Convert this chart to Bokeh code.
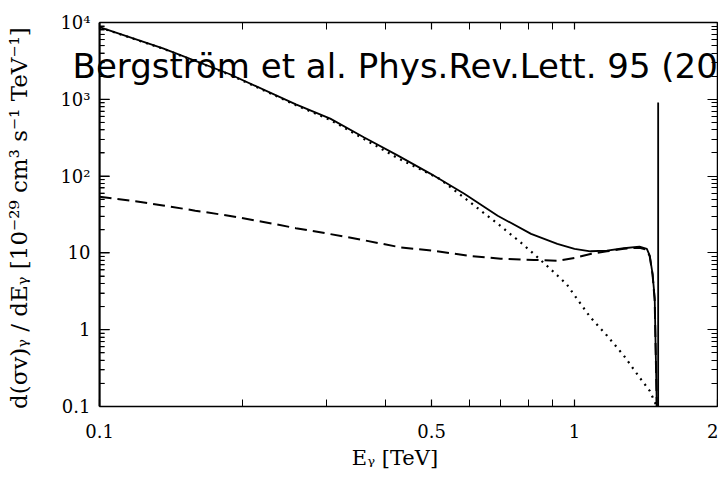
from bokeh.plotting import figure
from bokeh.models import Range1d, FixedTicker, Label, LogAxis, Span
from bokeh.embed import file_html
from bokeh.resources import INLINE

# ---- data (E in TeV, dσv/dE in 1e-29 cm^3 s^-1 TeV^-1) ----
total_E = [0.100, 0.136, 0.187, 0.259, 0.306, 0.360, 0.424, 0.498, 0.586, 0.689,
           0.810, 0.920, 1.00, 1.08, 1.17, 1.27, 1.37, 1.42, 1.44, 1.46, 1.475, 1.49]
total_y = [8700, 4600, 2150, 860, 560, 320, 186, 107, 59, 30.5,
           17.7, 13.1, 11.3, 10.5, 10.7, 11.5, 12.1, 11.3, 9.2, 5.3, 2.6, 0.1]

cont_E = [0.100, 0.136, 0.187, 0.259, 0.306, 0.360, 0.424, 0.520, 0.584, 0.689,
          0.770, 0.821, 0.889, 0.963, 1.00, 1.08, 1.17, 1.27, 1.37, 1.44, 1.49]
cont_y = [8650, 4560, 2120, 840, 540, 305, 172, 92, 53, 24,
          13.7, 9.7, 6.2, 3.9, 2.8, 1.45, 0.84, 0.46, 0.24, 0.16, 0.1]

ib_E = [0.100, 0.119, 0.136, 0.159, 0.187, 0.220, 0.259, 0.304, 0.349, 0.430,
        0.505, 0.595, 0.699, 0.821, 0.920, 1.00, 1.08, 1.17, 1.27, 1.37,
        1.42, 1.44, 1.46, 1.475, 1.49]
ib_y = [54, 47, 41.5, 35.5, 30.5, 25.5, 21, 17.7, 15.2, 11.8,
        10.7, 9.2, 8.4, 8.1, 7.9, 8.6, 9.7, 10.5, 11.3, 11.7,
        11.0, 9.0, 5.2, 2.4, 0.1]

line_E = [1.5, 1.5]
line_y = [0.1, 910]

X_MIN, X_MAX = 0.1, 2.0
Y_MIN, Y_MAX = 0.1, 1e4
X_VIEW_START = 0.0877   # a little room left of the axis so the caption can start there

x_ticks = [0.1, 0.5, 1.0, 2.0]
x_tick_labels = ["0.1", "0.5", "1", "2"]
x_minor = [0.2, 0.3, 0.4, 0.6, 0.7, 0.8, 0.9]
y_ticks = [0.1, 1, 10, 100, 1000, 10000]
y_tick_labels = ["0.1", "1", "10", "10²", "10³", "10⁴"]
y_minor = [k * 10.0 ** e for e in range(-1, 4) for k in range(2, 10)]

x_label = "Eᵧ [TeV]"
y_label = "d(σv)ᵧ / dEᵧ  [10⁻²⁹ cm³ s⁻¹ TeV⁻¹]"
note = "Bergström et al. Phys.Rev.Lett. 95 (2005)"

SERIF = "DejaVu Serif"

p = figure(width=718, height=477, x_axis_type="log", y_axis_type="log",
           x_range=Range1d(X_VIEW_START, X_MAX), y_range=Range1d(Y_MIN, Y_MAX),
           output_backend="svg", toolbar_location=None,
           min_border_left=72, min_border_right=1, min_border_top=22,
           min_border_bottom=71)
p.grid.visible = False
p.outline_line_color = None
p.background_fill_color = "white"
p.border_fill_color = "white"

xtick = FixedTicker(ticks=x_ticks, minor_ticks=x_minor)
ytick = FixedTicker(ticks=y_ticks, minor_ticks=y_minor)

def style(ax, major_in, minor_in):
    ax.axis_line_width = 1.5
    ax.axis_line_color = "black"
    ax.major_tick_in = major_in
    ax.major_tick_out = 0
    ax.minor_tick_in = minor_in
    ax.minor_tick_out = 0
    ax.major_tick_line_width = 1.2
    ax.minor_tick_line_width = 1.0
    ax.major_label_text_font = SERIF
    ax.major_label_text_font_size = "18px"
    ax.major_label_text_color = "black"
    ax.axis_label_text_font = SERIF
    ax.axis_label_text_font_style = "normal"
    ax.axis_label_text_font_size = "21px"
    ax.axis_label_text_color = "black"

def hide_labels(ax, ticks):
    ax.major_label_overrides = {t: "" for t in ticks}
    ax.major_label_text_color = None
    ax.major_label_text_font_size = "10px"
    ax.major_label_standoff = 0

# bottom axis: drawn only over the data range
xa = p.xaxis[0]
xa.ticker = xtick
style(xa, 7, 7)
xa.bounds = (X_MIN, X_MAX)
xa.major_label_overrides = {t: lab for t, lab in zip(x_ticks, x_tick_labels)}
xa.major_label_standoff = 17
xa.axis_label = x_label
xa.axis_label_standoff = 5

# left side: labels + title from the side axis, pulled right to sit beside E = 0.1
ya = p.yaxis[0]
ya.ticker = ytick
style(ya, 10, 5)
ya.axis_line_color = None
ya.major_tick_line_color = None
ya.minor_tick_line_color = None
ya.major_label_overrides = {t: lab for t, lab in zip(y_ticks, y_tick_labels)}
ya.major_label_standoff = -18
ya.axis_label = y_label
ya.axis_label_text_font_size = "23px"
ya.axis_label_standoff = 25

# left frame edge at E = 0.1 with inward ticks
yedge = LogAxis(ticker=ytick, fixed_location=X_MIN)
style(yedge, 10, 5)
hide_labels(yedge, y_ticks)
p.add_layout(yedge, "left")
p.add_layout(Span(location=X_MIN, dimension="height", line_color="black", line_width=1.5))
p.line([X_MIN, X_MIN], [Y_MIN, Y_MAX], line_color="black", line_width=1.5)
p.ray(x=[X_MIN] * len(y_ticks), y=y_ticks, length=10, length_units="screen",
      angle=0, line_color="black", line_width=1.2)
p.ray(x=[X_MIN] * len(y_minor), y=y_minor, length=5, length_units="screen",
      angle=0, line_color="black", line_width=1.0)

# mirrored top and right frame edges
top = LogAxis(ticker=xtick, bounds=(X_MIN, X_MAX))
style(top, 7, 7)
hide_labels(top, x_ticks)
p.add_layout(top, "above")

right = LogAxis(ticker=ytick)
style(right, 10, 6)
hide_labels(right, y_ticks)
p.add_layout(right, "right")

p.line(ib_E, ib_y, line_color="black", line_width=2, line_dash="12 6")
p.line(cont_E, cont_y, line_color="black", line_width=2.2, line_dash="2 5")
p.line(total_E, total_y, line_color="black", line_width=1.8)
p.line(line_E, line_y, line_color="black", line_width=1.8)

p.add_layout(Label(x=X_MIN, y=2750, x_offset=-27, text=note, text_font="DejaVu Sans",
                   text_font_size="34px", text_color="black",
                   text_align="left", text_baseline="alphabetic"))

open("out.html", "w").write(file_html(p, INLINE))
